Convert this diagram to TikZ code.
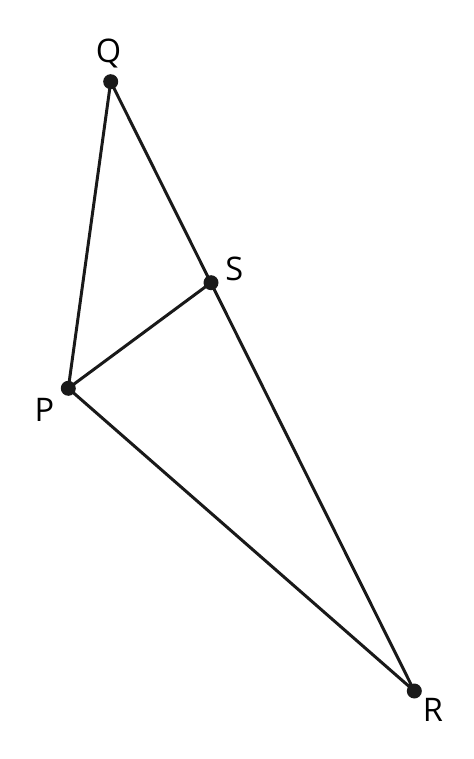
\documentclass[tikz,border=0pt]{standalone}
\usepackage{fontspec}
\setmainfont{Open Sans}
\tikzset{
    pt/.style={circle, fill=black!90, inner sep=0pt, minimum size=0.3cm},
    lbl/.style={inner sep=0pt, font=\fontsize{18.5}{22}\selectfont}
}
\begin{document}
\begin{tikzpicture}[x=0.02cm, y=-0.02cm]
\useasboundingbox (0,0) rectangle (473,759);
\node[pt] (Q) at (110.7,81.7) {};
\node[pt] (S) at (211,282.7) {};
\node[pt] (P) at (68.3,388.3) {};
\node[pt] (R) at (414.3,691) {};
\draw[line width=1.7pt, black!90] (Q.center)--(P.center)--(R.center)--(Q.center);
\draw[line width=1.7pt, black!90] (P.center)--(S.center);
\node[lbl] at (108.5,53){Q};
\node[lbl] at (234.3,268.5){S};
\node[lbl] at (44.5,409.5){P};
\node[lbl] at (433,709.5){R};
\end{tikzpicture}
\end{document}
